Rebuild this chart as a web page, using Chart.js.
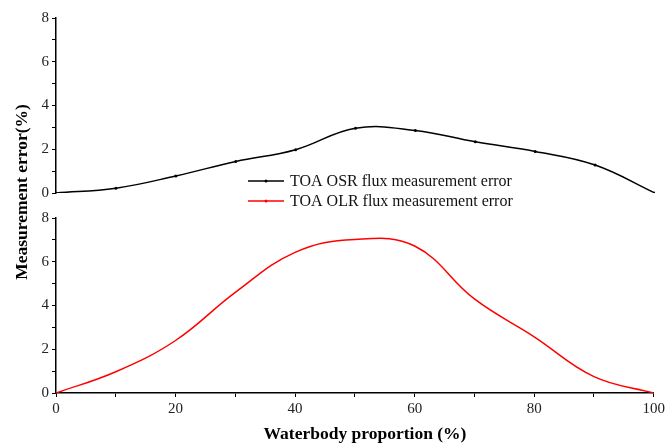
<!DOCTYPE html>
<html>
<head>
<meta charset="utf-8">
<script src="https://cdn.jsdelivr.net/npm/chart.js@4"></script>
<style>
  html, body { margin: 0; padding: 0; background: #fff; }
  #wrap { position: relative; width: 668px; height: 445px; }
  #wrap canvas { position: absolute; left: 0; top: 0; }
</style>
</head>
<body>
<div id="wrap">
  <canvas id="chart-top" width="668" height="445"></canvas>
  <canvas id="chart-bottom" width="668" height="445"></canvas>
</div>
<script>
// Data
const waterbody = [0, 10, 20, 30, 40, 50, 60, 70, 80, 90, 100];
const osrError = [0, 0.22, 0.78, 1.44, 1.98, 2.96, 2.86, 2.34, 1.9, 1.28, 0];
const olrError = [0, 0.97, 2.4, 4.6, 6.43, 7.02, 6.72, 4.3, 2.57, 0.75, 0];
const legendLabels = ['TOA OSR flux measurement error', 'TOA OLR flux measurement error'];
const yTitle = 'Measurement error(%)';
const xTitle = 'Waterbody proportion (%)';

const serif = '"Liberation Serif", "Times New Roman", serif';
Chart.defaults.font.family = serif;
Chart.defaults.color = '#222';

function toPoints(ys) {
  return waterbody.map((x, i) => ({ x: x, y: ys[i] }));
}

function yScale() {
  return {
    min: 0,
    max: 8,
    afterFit: s => { s.width = 56; },
    ticks: {
      stepSize: 1,
      padding: 3,
      font: { size: 15 },
      callback: v => (v % 2 === 0 ? v : '')
    },
    grid: {
      drawOnChartArea: false,
      tickLength: 4,
      tickColor: '#000',
      tickWidth: 1
    },
    border: { color: '#000', width: 1.5 }
  };
}

const baseOpts = {
  responsive: false,
  animation: false,
  plugins: { legend: { display: false }, tooltip: { enabled: false } }
};

// custom legend + axis titles
const extras = {
  id: 'extras',
  afterDraw(chart) {
    const c = chart.ctx;
    c.save();
    const colors = ['#000', '#ff0000'];
    const rows = [181, 201];
    rows.forEach((y, i) => {
      c.strokeStyle = colors[i];
      c.lineWidth = 1.5;
      c.beginPath();
      c.moveTo(248, y);
      c.lineTo(284, y);
      c.stroke();
      c.fillStyle = colors[i];
      c.beginPath();
      c.arc(266, y, 1.5, 0, Math.PI * 2);
      c.fill();
      c.fillStyle = '#111';
      c.font = '16px ' + serif;
      c.textBaseline = 'middle';
      c.textAlign = 'left';
      c.fillText(legendLabels[i], 290, y + 1);
    });
    c.fillStyle = '#000';
    c.font = 'bold 17.5px ' + serif;
    c.textAlign = 'center';
    c.textBaseline = 'middle';
    c.fillText(xTitle, 365, 434);
    c.translate(22, 192);
    c.rotate(-Math.PI / 2);
    c.fillText(yTitle, 0, 0);
    c.restore();
  }
};

const chartTop = new Chart(document.getElementById('chart-top').getContext('2d'), {
  type: 'line',
  data: {
    datasets: [{
      label: legendLabels[0],
      data: toPoints(osrError),
      borderColor: '#000',
      backgroundColor: '#000',
      borderWidth: 1.5,
      pointRadius: 1.5,
      pointBorderWidth: 0,
      tension: 0.4
    }]
  },
  options: Object.assign({}, baseOpts, {
    layout: { padding: { top: 18, bottom: 252, left: 0, right: 13 } },
    scales: {
      x: { type: 'linear', min: 0, max: 100, display: false },
      y: yScale()
    }
  })
});

const chartBottom = new Chart(document.getElementById('chart-bottom').getContext('2d'), {
  type: 'line',
  data: {
    datasets: [{
      label: legendLabels[1],
      data: toPoints(olrError),
      borderColor: '#ff0000',
      backgroundColor: '#ff0000',
      borderWidth: 1.5,
      pointRadius: 0,
      tension: 0.4
    }]
  },
  options: Object.assign({}, baseOpts, {
    layout: { padding: { top: 218, bottom: 0, left: 0, right: 13 } },
    scales: {
      x: {
        type: 'linear',
        min: 0,
        max: 100,
        afterFit: s => { s.height = 52; },
        ticks: {
          stepSize: 10,
          padding: 3,
          maxRotation: 0,
          font: { size: 15 },
          callback: v => (v % 20 === 0 ? v : '')
        },
        grid: {
          drawOnChartArea: false,
          tickLength: 4,
          tickColor: '#000',
          tickWidth: 1
        },
        border: { color: '#000', width: 1.5 }
      },
      y: yScale()
    }
  }),
  plugins: [extras]
});
</script>
</body>
</html>
